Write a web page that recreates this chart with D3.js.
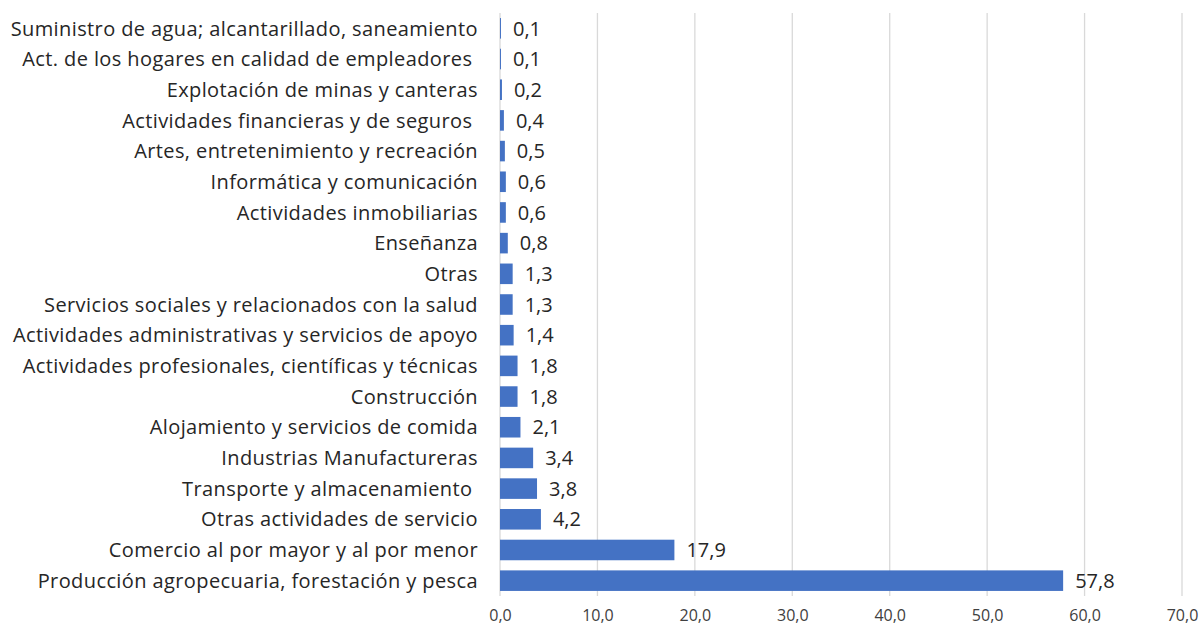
<!DOCTYPE html>
<html>
<head>
<meta charset="utf-8">
<script src="https://cdn.jsdelivr.net/npm/d3@7"></script>
<style>
  body { margin: 0; background: #fff; }
  text { white-space: pre; }
</style>
</head>
<body>
<div class="chartBox"></div>
<script>
// categories top to bottom, as in the picture
var categories = [
    "Suministro de agua; alcantarillado, saneamiento",
    "Act. de los hogares en calidad de empleadores ",
    "Explotación de minas y canteras",
    "Actividades financieras y de seguros ",
    "Artes, entretenimiento y recreación",
    "Informática y comunicación",
    "Actividades inmobiliarias",
    "Enseñanza",
    "Otras",
    "Servicios sociales y relacionados con la salud",
    "Actividades administrativas y servicios de apoyo",
    "Actividades profesionales, científicas y técnicas",
    "Construcción",
    "Alojamiento y servicios de comida",
    "Industrias Manufactureras",
    "Transporte y almacenamiento ",
    "Otras actividades de servicio",
    "Comercio al por mayor y al por menor",
    "Producción agropecuaria, forestación y pesca"
];
var values = [0.1, 0.1, 0.2, 0.4, 0.5, 0.6, 0.6, 0.8, 1.3, 1.3, 1.4, 1.8, 1.8, 2.1, 3.4, 3.8, 4.2, 17.9, 57.8];
var xTicks = [0, 10, 20, 30, 40, 50, 60, 70];

var chartW = 1201, chartH = 626;
// note: "top" is taken by window.top, so plot edges get their own names
var plotLeft = 500, plotRight = 1182, plotTop = 13, plotBottom = 596;
var font = '"Open Sans", "Noto Sans", sans-serif';

var svg = d3.select('.chartBox').append('svg')
    .attr('width', chartW)
    .attr('height', chartH);

var x = d3.scaleLinear().domain([0, 70]).range([plotLeft, plotRight]);
var y = d3.scaleBand().domain(categories).range([plotTop, plotBottom]).paddingInner(0.33).paddingOuter(0.165);

var fmt = function (v) { return v.toFixed(1).replace('.', ','); };

// gridlines
svg.selectAll('.grid')
    .data(xTicks)
    .enter().append('line')
    .attr('x1', function (d) { return x(d); })
    .attr('x2', function (d) { return x(d); })
    .attr('y1', plotTop)
    .attr('y2', plotBottom)
    .style('stroke', '#d9d9d9')
    .style('stroke-width', 1.3);

// x axis labels (d3 axis, no domain / ticks)
var xAxis = svg.append('g')
    .attr('transform', 'translate(0,615)')
    .call(d3.axisBottom(x).tickValues(xTicks).tickSize(0).tickPadding(0).tickFormat(fmt));
xAxis.select('.domain').remove();
xAxis.selectAll('text')
    .attr('dy', '0.35em')
    .style('font-family', font)
    .style('font-size', '16px')
    .style('fill', '#404040');

// bars
svg.selectAll('.bar')
    .data(values)
    .enter().append('rect')
    .attr('x', x(0))
    .attr('y', function (d, i) { return y(categories[i]); })
    .attr('width', function (d) { return x(d) - x(0); })
    .attr('height', y.bandwidth())
    .style('fill', '#4472c4');

// value labels
svg.selectAll('.val')
    .data(values)
    .enter().append('text')
    .attr('x', function (d) { return x(d) + 12; })
    .attr('y', function (d, i) { return y(categories[i]) + y.bandwidth() / 2; })
    .attr('dy', '0.36em')
    .text(fmt)
    .style('font-family', font)
    .style('font-size', '20px')
    .style('fill', '#262626');

// category labels
var yAxis = svg.append('g')
    .attr('transform', 'translate(' + (plotLeft - 22) + ',0)')
    .call(d3.axisLeft(y).tickSize(0));
yAxis.select('.domain').remove();
yAxis.selectAll('text')
    .attr('x', 0)
    .attr('dy', '0.36em')
    .style('font-family', font)
    .style('font-size', '20px')
    .style('letter-spacing', '0.4px')
    .style('fill', '#262626');
</script>
</body>
</html>
